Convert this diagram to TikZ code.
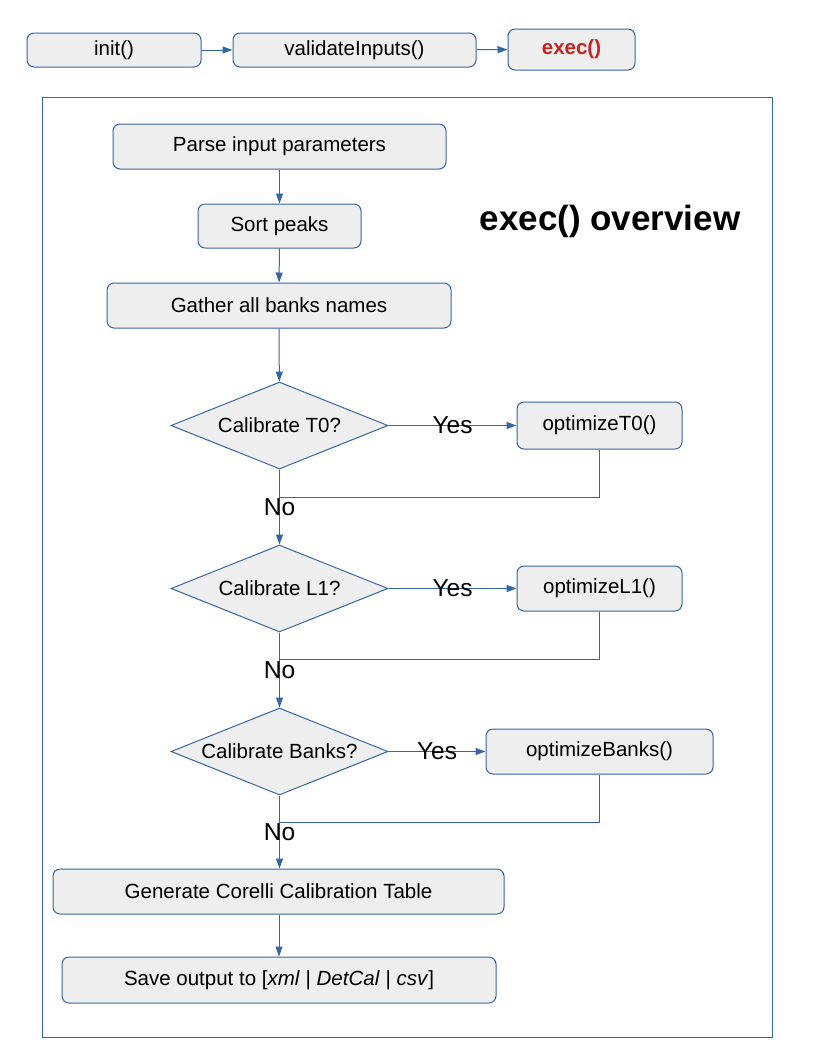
\documentclass[tikz,border=0pt]{standalone}
\usepackage{fontspec}
\setmainfont{Liberation Sans}
\usetikzlibrary{shapes.geometric,arrows.meta}
\definecolor{lineblue}{HTML}{3465A4}
\definecolor{boxgray}{HTML}{EEEEEE}
\definecolor{execred}{HTML}{C9211E}
\tikzset{
    stepbox/.style={draw=lineblue, fill=boxgray, rounded corners=3.5pt, line width=.5pt,
        font=\fontsize{10.25pt}{12pt}\selectfont},
    decision/.style={draw=lineblue, fill=boxgray, diamond, aspect=2.49, inner sep=0pt, line width=.5pt,
        font=\fontsize{10.25pt}{12pt}\selectfont},
    flow/.style={draw=lineblue, line width=.5pt, -{Triangle[length=5pt,width=3.5pt]}},
    ret/.style={draw=lineblue, line width=.5pt},
    answer/.style={font=\fontsize{12.25pt}{14pt}\selectfont}
}
\begin{document}
\begin{tikzpicture}[x=.5pt, y=-.5pt]
\useasboundingbox (0,0) rectangle (816,1056);
% call chain
\node[stepbox, minimum width=87pt, minimum height=17pt](init) at (114,50){init()};
\node[stepbox, minimum width=121.5pt, minimum height=17pt](validate) at (354.5,50){validateInputs()};
\node[stepbox, minimum width=63.5pt, minimum height=20.5pt, text=execred, font=\fontsize{10.25pt}{12pt}\selectfont\bfseries](exec) at (571.5,49.5){exec()};
\draw[flow](init)--(validate);
\draw[flow](validate)--(exec);
% overview frame
\draw[lineblue, line width=.5pt](42,97) rectangle (772,1037);
\node[font=\fontsize{17.5pt}{20pt}\selectfont\bfseries](title) at (610,221){exec() overview};
\node[stepbox, minimum width=166.5pt, minimum height=22.5pt](parse) at (279.5,146.5){Parse input parameters};
\node[stepbox, minimum width=81.5pt, minimum height=22pt](sort) at (279.5,226){Sort peaks};
\node[stepbox, minimum width=172pt, minimum height=22.5pt](gather) at (279,305.5){Gather all banks names};
\node[decision, minimum width=108.5pt, minimum height=43.5pt](calT) at (279.5,425.5){Calibrate T0?};
\node[stepbox, minimum width=82.5pt, minimum height=23.5pt](optT) at (599.5,425.5){optimizeT0()};
\node[decision, minimum width=108.5pt, minimum height=43.5pt](calL) at (279.5,588.5){Calibrate L1?};
\node[stepbox, minimum width=82.5pt, minimum height=22.5pt](optL) at (599.5,588.5){optimizeL1()};
\node[decision, minimum width=108.5pt, minimum height=43.5pt](calB) at (279.5,751.5){Calibrate Banks?};
\node[stepbox, minimum width=113.5pt, minimum height=22.5pt](optB) at (599.5,751.5){optimizeBanks()};
\node[stepbox, minimum width=225.5pt, minimum height=22.5pt](gen) at (278.5,891.5){Generate Corelli Calibration Table};
\node[stepbox, minimum width=217pt, minimum height=23pt](save) at (279,980){Save output to [\textit{xml} | \textit{DetCal} | \textit{csv}]};
\coordinate (jT) at (279.5,497);
\coordinate (jL) at (279.5,659);
\coordinate (jB) at (279.5,822);
\draw[flow](parse)--(sort);
\draw[flow](sort)--(gather);
\draw[flow](gather)--(calT);
\draw[flow](calT)--node[answer]{Yes}(optT);
\draw[ret](optT.south)|-(jT);
\draw[flow](calT)--node[answer]{No}(calL);
\draw[flow](calL)--node[answer]{Yes}(optL);
\draw[ret](optL.south)|-(jL);
\draw[flow](calL)--node[answer]{No}(calB);
\draw[flow](calB)--node[answer]{Yes}(optB);
\draw[ret](optB.south)|-(jB);
\draw[flow](calB)--node[answer]{No}(gen.north-|calB);
\draw[flow](gen.south-|save)--(save);

\end{tikzpicture}
\end{document}
